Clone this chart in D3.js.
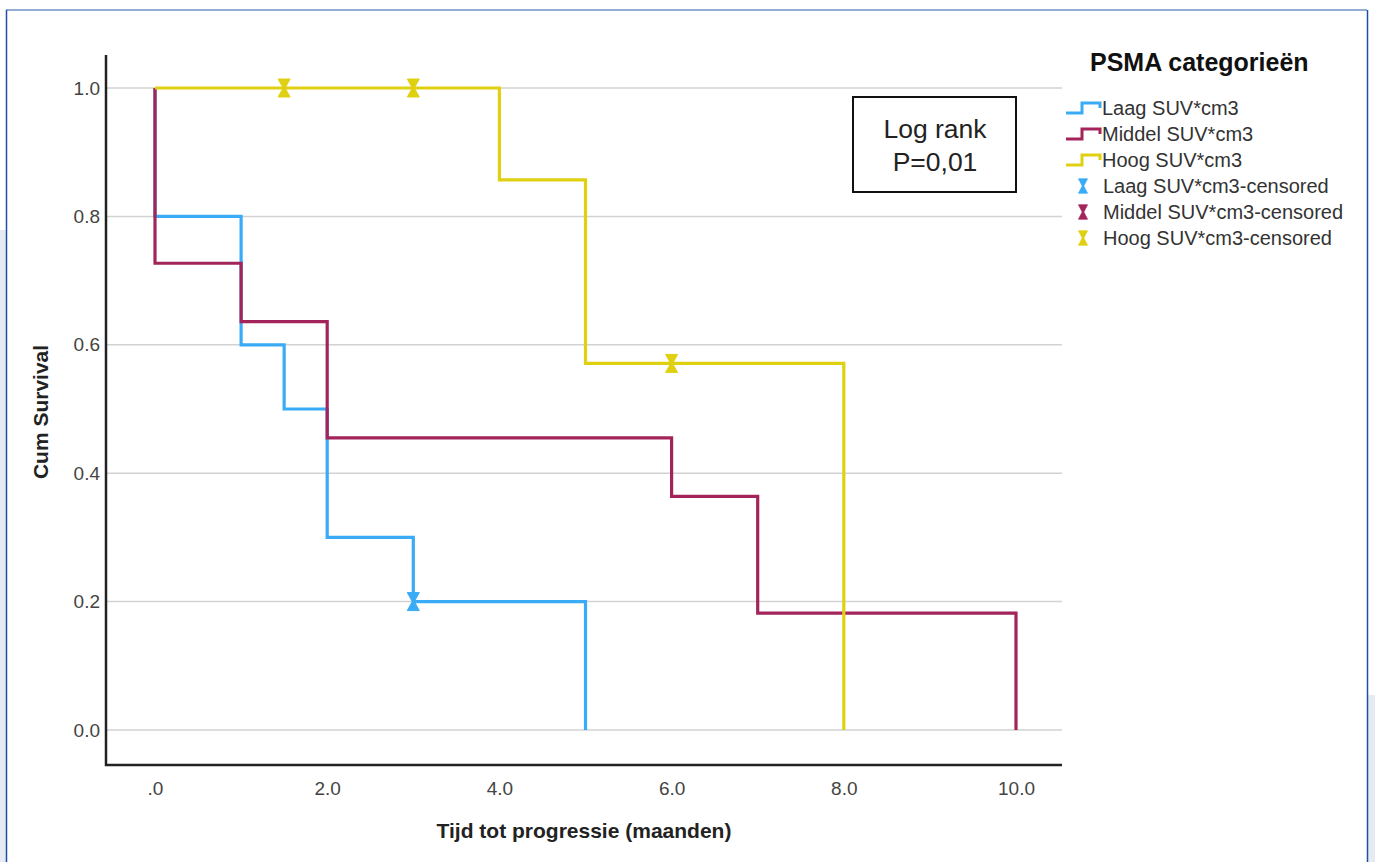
<!DOCTYPE html>
<html>
<head>
<meta charset="utf-8">
<script src="https://cdn.jsdelivr.net/npm/d3@7"></script>
<style>
  html, body { margin: 0; padding: 0; background: #fff; }
  svg { display: block; font-family: "Liberation Sans", Arial, sans-serif; }
</style>
</head>
<body>
<svg id="chart" width="1375" height="862"></svg>
<script>
// Kaplan-Meier steps
const laagTimes = [0, 0, 1, 1.5, 2, 3, 5];
const laagSurv = [1, 0.8, 0.6, 0.5, 0.3, 0.2, 0];
const middelTimes = [0, 0, 1, 2, 6, 7, 10];
const middelSurv = [1, 0.727, 0.636, 0.455, 0.364, 0.182, 0];
const hoogTimes = [0, 4, 5, 8];
const hoogSurv = [1, 0.857, 0.571, 0];

const laagCensTimes = [3];
const laagCensSurv = [0.2];
const hoogCensTimes = [1.5, 3, 6];
const hoogCensSurv = [1, 1, 0.571];

const xTicks = [0, 2, 4, 6, 8, 10];
const yTicks = [0, 0.2, 0.4, 0.6, 0.8, 1.0];

const seriesNames = ["Laag SUV*cm3", "Middel SUV*cm3", "Hoog SUV*cm3"];
const colors = ["#3aabf6", "#a3245a", "#e0d012"];

const svg = d3.select("#chart");

// screenshot frame
svg.append("rect").attr("x", 0).attr("y", 230).attr("width", 6).attr("height", 632).attr("fill", "#e6ebf3");
svg.append("rect").attr("x", 1368).attr("y", 695).attr("width", 7).attr("height", 167).attr("fill", "#e6ebf3");
svg.append("line").attr("x1", 6).attr("x2", 1367).attr("y1", 10).attr("y2", 10)
  .attr("stroke", "#6f93c4").attr("stroke-width", 1.5);
svg.append("line").attr("x1", 6.5).attr("x2", 6.5).attr("y1", 10).attr("y2", 862)
  .attr("stroke", "#1f4fa3").attr("stroke-width", 1.5);
svg.append("line").attr("x1", 1367.5).attr("x2", 1367.5).attr("y1", 10).attr("y2", 862)
  .attr("stroke", "#1f4fa3").attr("stroke-width", 1.5);

const x = d3.scaleLinear().domain([0, 10]).range([155, 1016]);
const y = d3.scaleLinear().domain([0, 1]).range([730, 88]);

const plotLeft = 106, plotRight = 1062, plotTop = 55, plotBottom = 765;

// gridlines
svg.append("g").selectAll("line").data(yTicks).join("line")
  .attr("x1", plotLeft).attr("x2", plotRight)
  .attr("y1", d => y(d)).attr("y2", d => y(d))
  .attr("stroke", "#d2d2d2").attr("stroke-width", 1.5);

// axes
const xAxis = svg.append("g").attr("transform", `translate(0,${plotBottom})`)
  .call(d3.axisBottom(x).tickValues(xTicks).tickSize(0).tickPadding(17)
    .tickFormat(d => d === 0 ? ".0" : d3.format(".1f")(d)));
xAxis.select(".domain").remove();
xAxis.selectAll("text").attr("font-size", 19).attr("fill", "#444");

const yAxis = svg.append("g").attr("transform", `translate(${plotLeft},0)`)
  .call(d3.axisLeft(y).tickValues(yTicks).tickSize(0).tickPadding(6).tickFormat(d3.format(".1f")));
yAxis.select(".domain").remove();
yAxis.selectAll("text").attr("font-size", 19).attr("fill", "#444");

svg.append("path")
  .attr("d", `M${plotLeft},${plotTop}V${plotBottom}H${plotRight}`)
  .attr("fill", "none").attr("stroke", "#222").attr("stroke-width", 2.5);

// titles
svg.append("text").attr("x", 584).attr("y", 838).attr("text-anchor", "middle")
  .attr("font-size", 21).attr("font-weight", "bold").attr("fill", "#222")
  .text("Tijd tot progressie (maanden)");
svg.append("text").attr("transform", "translate(48,412) rotate(-90)").attr("text-anchor", "middle")
  .attr("font-size", 21).attr("font-weight", "bold").attr("fill", "#222")
  .text("Cum Survival");

// survival curves
const line = d3.line().x(d => x(d[0])).y(d => y(d[1])).curve(d3.curveStepAfter);
const curves = [
  d3.zip(laagTimes, laagSurv),
  d3.zip(middelTimes, middelSurv),
  d3.zip(hoogTimes, hoogSurv)
];
curves.forEach((pts, i) => {
  svg.append("path").datum(pts).attr("d", line)
    .attr("fill", "none").attr("stroke", colors[i]).attr("stroke-width", 3.2);
});

// censored markers (hourglass)
const hourglass = "M-6,-9L6,-9L1,0L6,9L-6,9L-1,0Z";
const cens = [
  { pts: d3.zip(laagCensTimes, laagCensSurv), c: colors[0] },
  { pts: d3.zip(hoogCensTimes, hoogCensSurv), c: colors[2] }
];
cens.forEach(s => {
  svg.append("g").selectAll("path").data(s.pts).join("path")
    .attr("transform", d => `translate(${x(d[0])},${y(d[1])})`)
    .attr("d", hourglass).attr("fill", s.c).attr("stroke", s.c).attr("stroke-width", 1);
});

// log rank box
svg.append("rect").attr("x", 853).attr("y", 97).attr("width", 163).attr("height", 95)
  .attr("fill", "#fff").attr("stroke", "#111").attr("stroke-width", 2);
svg.append("text").attr("x", 935).attr("y", 138).attr("text-anchor", "middle")
  .attr("font-size", 26.5).attr("fill", "#222").text("Log rank");
svg.append("text").attr("x", 935).attr("y", 171).attr("text-anchor", "middle")
  .attr("font-size", 26.5).attr("fill", "#222").text("P=0,01");

// legend
const legend = svg.append("g");
legend.append("text").attr("x", 1090).attr("y", 71).attr("font-size", 25)
  .attr("font-weight", "bold").attr("fill", "#111").text("PSMA categorieën");

const rowY = i => 108 + i * 26;
seriesNames.forEach((name, i) => {
  const cy = rowY(i);
  legend.append("path")
    .attr("d", `M1066,${cy + 5}H1082V${cy - 5}H1100V${cy}`)
    .attr("fill", "none").attr("stroke", colors[i]).attr("stroke-width", 3);
  legend.append("text").attr("x", 1102).attr("y", cy + 7).attr("font-size", 20)
    .attr("fill", "#333").text(name);
});
seriesNames.forEach((name, i) => {
  const cy = rowY(i + 3);
  legend.append("path").attr("transform", `translate(1083,${cy}) scale(0.75,0.8)`)
    .attr("d", hourglass).attr("fill", colors[i]).attr("stroke", colors[i]);
  legend.append("text").attr("x", 1103).attr("y", cy + 7).attr("font-size", 20)
    .attr("fill", "#333").text(name + "-censored");
});
</script>
</body>
</html>
